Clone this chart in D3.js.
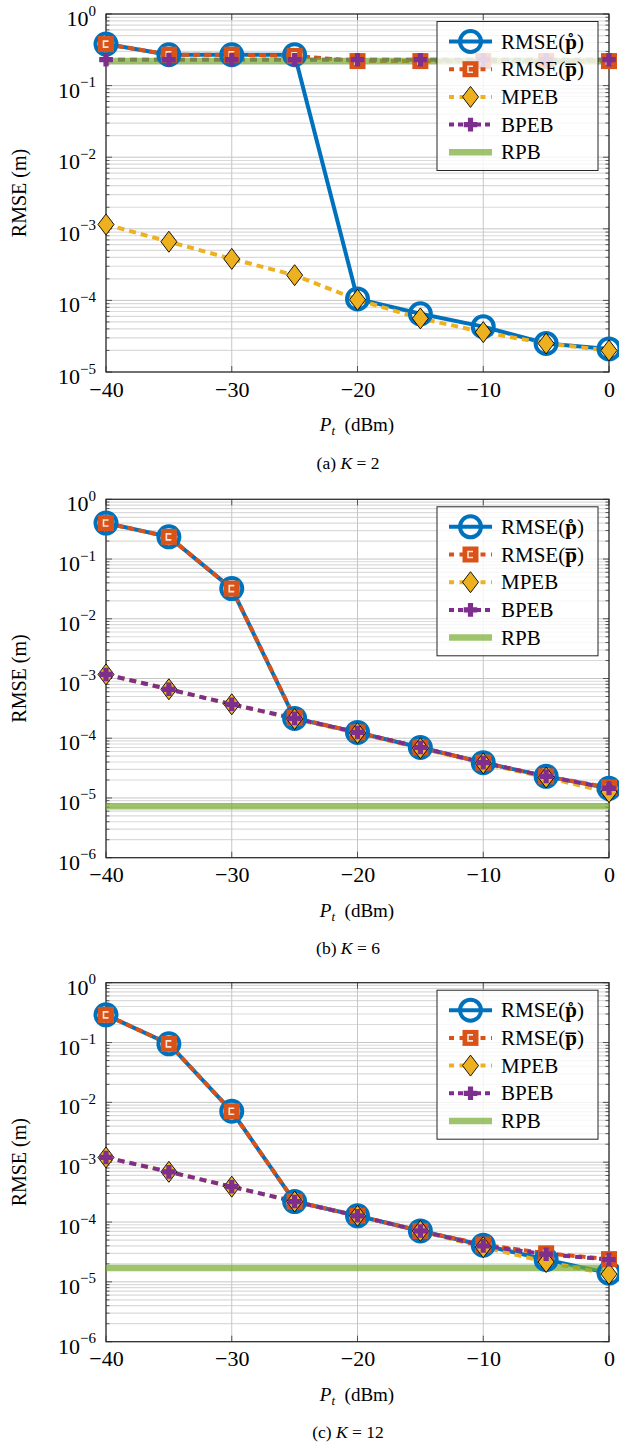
<!DOCTYPE html>
<html>
<head>
<meta charset="utf-8">
<script src="https://cdn.jsdelivr.net/npm/d3@7"></script>
<style>
  body { margin: 0; background: #fff; }
  svg { display: block; font-family: 'Liberation Serif', 'Times New Roman', serif; }
</style>
</head>
<body>
<script>
const powers = [-40, -35, -30, -25, -20, -15, -10, -5, 0];
const xTicks = [-40, -30, -20, -10, 0];
const seriesNames = ['RMSE(p̊)', 'RMSE(p̄)', 'MPEB', 'BPEB', 'RPB'];

// (a) K = 2
const ringA = [0.38, 0.27, 0.27, 0.27, 1.05e-4, 6.5e-5, 4.3e-5, 2.5e-5, 2.1e-5];
const barA = [0.38, 0.27, 0.27, 0.26, 0.22, 0.22, 0.22, 0.22, 0.22];
const mpebA = [1.15e-3, 6.6e-4, 3.8e-4, 2.25e-4, 1.02e-4, 5.6e-5, 3.6e-5, 2.5e-5, 2.0e-5];
const bpebA = [0.23, 0.23, 0.23, 0.23, 0.23, 0.23, 0.23, 0.23, 0.23];
const rpbA = 0.22;

// (b) K = 6
const ringB = [0.40, 0.235, 0.032, 2.15e-4, 1.25e-4, 7.0e-5, 3.9e-5, 2.3e-5, 1.45e-5];
const barB = [0.40, 0.235, 0.032, 2.2e-4, 1.25e-4, 7.0e-5, 3.9e-5, 2.3e-5, 1.5e-5];
const mpebB = [1.17e-3, 6.6e-4, 3.7e-4, 2.1e-4, 1.22e-4, 6.8e-5, 3.8e-5, 2.2e-5, 1.25e-5];
const bpebB = [1.17e-3, 6.6e-4, 3.7e-4, 2.15e-4, 1.25e-4, 7.0e-5, 3.9e-5, 2.3e-5, 1.45e-5];
const rpbB = 7.3e-6;

// (c) K = 12
const ringC = [0.29, 0.095, 7.1e-3, 2.2e-4, 1.27e-4, 7.1e-5, 4.1e-5, 2.35e-5, 1.4e-5];
const barC = [0.29, 0.095, 7.1e-3, 2.2e-4, 1.27e-4, 7.1e-5, 4.2e-5, 3.0e-5, 2.4e-5];
const mpebC = [1.2e-3, 6.9e-4, 3.9e-4, 2.2e-4, 1.27e-4, 7.1e-5, 3.8e-5, 2.15e-5, 1.35e-5];
const bpebC = [1.2e-3, 6.9e-4, 3.9e-4, 2.2e-4, 1.27e-4, 7.1e-5, 4.0e-5, 2.9e-5, 2.35e-5];
const rpbC = 1.7e-5;

const panels = [
  { tag: '(a)', k: '2', top: 14, bottom: 372, yMin: 1e-5, series: [ringA, barA, mpebA, bpebA], rpb: rpbA },
  { tag: '(b)', k: '6', top: 499.3, bottom: 857.7, yMin: 1e-6, series: [ringB, barB, mpebB, bpebB], rpb: rpbB },
  { tag: '(c)', k: '12', top: 982.7, bottom: 1341.7, yMin: 1e-6, series: [ringC, barC, mpebC, bpebC], rpb: rpbC }
];

const styles = [
  { color: '#0072BD', dash: null, marker: 'circle' },
  { color: '#D95319', dash: '7 4', marker: 'square' },
  { color: '#EDB120', dash: '7 5', marker: 'diamond' },
  { color: '#7E2F8E', dash: '7 5', marker: 'plus' },
  { color: '#77AC30', dash: null, marker: null }
];

const svg = d3.select('body')
  .append('svg')
  .attr('width', 619)
  .attr('height', 1443)

function drawMarker(g, type, cx, cy) {
  const m = g.append('g').attr('transform', `translate(${cx},${cy})`);
  if (type === 'circle') {
    m.append('circle')
      .attr('r', 10.5)
      .style('fill', 'none')
      .style('stroke', styles[0].color)
      .style('stroke-width', 4)
  } else if (type === 'square') {
    m.append('rect')
      .attr('x', -8).attr('y', -8)
      .attr('width', 16).attr('height', 16)
      .style('fill', styles[1].color)
    m.append('path')
      .attr('d', 'M2.5,-3H-2.5V3H2.5')
      .style('fill', 'none')
      .style('stroke', '#fff')
      .style('stroke-opacity', 0.85)
      .style('stroke-width', 1.6)
  } else if (type === 'diamond') {
    m.append('path')
      .attr('d', 'M0,-10.5L8,0L0,10.5L-8,0Z')
      .style('fill', styles[2].color)
      .style('stroke', '#000')
      .style('stroke-width', 0.9)
  } else if (type === 'plus') {
    m.append('path')
      .attr('d', 'M-2.6,-6.8H2.6V-2.6H6.8V2.6H2.6V6.8H-2.6V2.6H-6.8V-2.6H-2.6Z')
      .style('fill', styles[3].color)
  }
}

panels.forEach(p => {
  const x = d3.scaleLinear().domain([-40, 0]).range([106, 609]);
  const y = d3.scaleLog().domain([p.yMin, 1]).range([p.bottom, p.top]);
  const allTicks = y.ticks(20);
  const majors = allTicks.filter(d => Math.abs(Math.log10(d) - Math.round(Math.log10(d))) < 1e-9);
  const minors = allTicks.filter(d => !majors.includes(d));

  const g = svg.append('g');

  // Grid
  g.append('g')
    .selectAll('line')
    .data(minors)
    .join('line')
    .attr('x1', 106).attr('x2', 609)
    .attr('y1', d => y(d)).attr('y2', d => y(d))
    .style('stroke', '#dadada')
    .style('stroke-width', 1.2)

  g.append('g')
    .selectAll('line')
    .data(majors)
    .join('line')
    .attr('x1', 106).attr('x2', 609)
    .attr('y1', d => y(d)).attr('y2', d => y(d))
    .style('stroke', '#c6c6c6')
    .style('stroke-width', 1)

  g.append('g')
    .selectAll('line')
    .data(xTicks)
    .join('line')
    .attr('x1', d => x(d)).attr('x2', d => x(d))
    .attr('y1', p.top).attr('y2', p.bottom)
    .style('stroke', '#c6c6c6')
    .style('stroke-width', 1)

  // Ticks
  const ticks = g.append('g').style('stroke', '#333').style('stroke-width', 0.8);
  [106, 609].forEach(edge => {
    const dir = edge === 106 ? 1 : -1;
    ticks.selectAll(null)
      .data(allTicks)
      .join('line')
      .attr('x1', edge)
      .attr('x2', d => edge + dir * (majors.includes(d) ? 6 : 3.5))
      .attr('y1', d => y(d)).attr('y2', d => y(d))
  });
  [p.top, p.bottom].forEach(edge => {
    const dir = edge === p.top ? 1 : -1;
    ticks.selectAll(null)
      .data(xTicks)
      .join('line')
      .attr('x1', d => x(d)).attr('x2', d => x(d))
      .attr('y1', edge).attr('y2', edge + dir * 6)
  });

  g.append('rect')
    .attr('x', 106).attr('y', p.top)
    .attr('width', 503).attr('height', p.bottom - p.top)
    .style('fill', 'none')
    .style('stroke', '#262626')
    .style('stroke-width', 1.2)

  // Tick labels
  const xAxis = d3.axisBottom(x)
    .tickValues(xTicks)
    .tickSize(0)
    .tickPadding(9)

  g.append('g')
    .attr('transform', `translate(0,${p.bottom})`)
    .call(xAxis)
    .call(a => a.select('.domain').remove())
    .selectAll('text')
    .style('font-family', 'Liberation Serif, serif')
    .style('font-size', '22px')
    .style('fill', '#000')

  g.append('g')
    .selectAll('text')
    .data(majors)
    .join('text')
    .attr('x', 96)
    .attr('y', d => y(d) + 12)
    .attr('text-anchor', 'end')
    .style('font-size', '22px')
    .each(function (d) {
      const e = Math.round(Math.log10(d));
      const t = d3.select(this);
      t.append('tspan').text('10');
      t.append('tspan')
        .attr('dy', -10.5)
        .style('font-size', '15px')
        .text(e < 0 ? '\u2212' + Math.abs(e) : String(e));
    })

  // Axis labels and caption
  g.append('text')
    .attr('transform', `translate(26,${(p.top + p.bottom) / 2}) rotate(-90)`)
    .attr('text-anchor', 'middle')
    .style('font-size', '20px')
    .text('RMSE (m)')

  const xl = g.append('text')
    .attr('x', 357)
    .attr('y', p.bottom + 59)
    .attr('text-anchor', 'middle')
    .style('font-size', '19px')
  xl.append('tspan').style('font-style', 'italic').text('P');
  xl.append('tspan').attr('dy', 4).style('font-size', '13px').style('font-style', 'italic').text('t');
  xl.append('tspan').attr('dy', -4).text('\u2002(dBm)');

  const cap = g.append('text')
    .attr('x', 348)
    .attr('y', p.bottom + 96.5)
    .attr('text-anchor', 'middle')
    .style('font-size', '17.5px')
  cap.append('tspan').text(p.tag + ' ');
  cap.append('tspan').style('font-style', 'italic').text('K');
  cap.append('tspan').text(' = ' + p.k);

  // Lines
  const line = d3.line()
    .x((d, i) => x(powers[i]))
    .y(d => y(d))

  p.series.forEach((s, i) => {
    g.append('path')
      .datum(s)
      .attr('d', line)
      .style('fill', 'none')
      .style('stroke', styles[i].color)
      .style('stroke-width', 4)
      .style('stroke-dasharray', styles[i].dash)
  });

  g.append('line')
    .attr('x1', x(powers[0])).attr('x2', x(powers[powers.length - 1]))
    .attr('y1', y(p.rpb)).attr('y2', y(p.rpb))
    .style('stroke', styles[4].color)
    .style('stroke-width', 6.5)
    .style('opacity', 0.7)

  // Markers
  p.series.forEach((s, i) => {
    s.forEach((v, j) => drawMarker(g, styles[i].marker, x(powers[j]), y(v)));
  });

  // Legend
  const lx = 437;
  const ly = p.top + 7.5;
  const legend = g.append('g');
  legend.append('rect')
    .attr('x', lx).attr('y', ly)
    .attr('width', 161).attr('height', 149)
    .style('fill', '#fff')
    .style('fill-opacity', 0.8)
    .style('stroke', '#262626')
    .style('stroke-width', 1)

  seriesNames.forEach((name, i) => {
    const cy = ly + 20 + i * 27.7;
    legend.append('line')
      .attr('x1', 449).attr('x2', 492)
      .attr('y1', cy).attr('y2', cy)
      .style('stroke', styles[i].color)
      .style('stroke-width', i === 4 ? 6.5 : 4)
      .style('opacity', i === 4 ? 0.7 : 1)
      .style('stroke-dasharray', i === 3 ? '5 4' : (i === 1 || i === 2 ? '5 5.5' : null))
    if (styles[i].marker) drawMarker(legend, styles[i].marker, 470.5, cy);
    const t = legend.append('text')
      .attr('x', 501)
      .attr('y', cy + 7)
      .style('font-size', '21px')
    if (i < 2) {
      t.append('tspan').text('RMSE(');
      t.append('tspan').style('font-weight', 'bold').text(i === 0 ? 'p\u030A' : 'p\u0305');
      t.append('tspan').text(')');
    } else {
      t.text(name);
    }
  });
});
</script>
</body>
</html>
